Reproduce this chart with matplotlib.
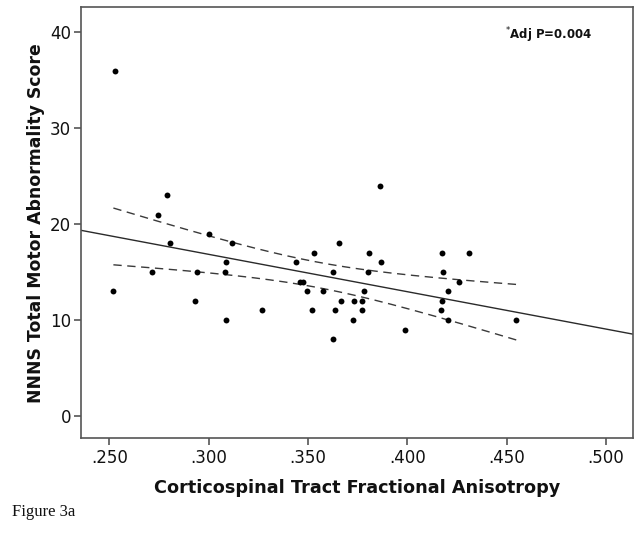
import numpy as np
import matplotlib
matplotlib.use("Agg")
import matplotlib.pyplot as plt

# Data
fa = [0.2527, 0.2520, 0.2713, 0.2745, 0.2789, 0.2807, 0.2932, 0.2942, 0.3002,
      0.3083, 0.3086, 0.3086, 0.3119, 0.3266, 0.3440, 0.3460, 0.3477, 0.3495,
      0.3519, 0.3531, 0.3575, 0.3627, 0.3628, 0.3638, 0.3655, 0.3665, 0.3729,
      0.3732, 0.3771, 0.3774, 0.3781, 0.3804, 0.3808, 0.3865, 0.3868, 0.3989,
      0.4171, 0.4176, 0.4177, 0.4179, 0.4204, 0.4207, 0.4263, 0.4312, 0.4550]
score = [36, 13, 15, 21, 23, 18, 12, 15, 19,
         15, 16, 10, 18, 11, 16, 14, 14, 13,
         11, 17, 13, 8, 15, 11, 18, 12, 10,
         12, 11, 12, 13, 15, 17, 24, 16, 9,
         11, 17, 12, 15, 13, 10, 14, 17, 10]
xticks = [0.25, 0.30, 0.35, 0.40, 0.45, 0.50]
xticklabels = [".250", ".300", ".350", ".400", ".450", ".500"]
yticks = [0, 10, 20, 30, 40]

x = np.array(fa)
y = np.array(score)
n = len(x)
b1, b0 = np.polyfit(x, y, 1)
resid = y - (b0 + b1 * x)
s = np.sqrt(np.sum(resid ** 2) / (n - 2))
t = 2.0154  # t(0.975, 43)
sxx = np.sum((x - x.mean()) ** 2)

fig = plt.figure(figsize=(6.41, 5.36), dpi=100)
ax = fig.add_axes([0.1264, 0.1828, 0.8611, 0.8036])
xlim = (0.2357, 0.5137)
ax.set_xlim(*xlim)
ax.set_ylim(-2.3, 42.6)

xl = np.linspace(xlim[0], xlim[1], 200)
ax.plot(xl, b0 + b1 * xl, color="#2a2a2a", lw=1.0, zorder=2)
xc = np.linspace(x.min(), x.max(), 200)
se = s * np.sqrt(1.0 / n + (xc - x.mean()) ** 2 / sxx)
for sign in (1, -1):
    ax.plot(xc, b0 + b1 * xc + sign * t * se, color="#3a3a3a", lw=1.0,
            dashes=(6, 4), zorder=2)

ax.scatter(x, y, s=18, color="black", zorder=3, linewidths=0)

ax.set_xticks(xticks)
ax.set_xticklabels(xticklabels)
ax.set_yticks(yticks)
for sp in ax.spines.values():
    sp.set_color("#555555")
    sp.set_linewidth(1.2)
ax.tick_params(direction="out", length=5, width=1.2, color="#555555",
               labelsize=12, labelcolor="#111111", pad=3)
ax.tick_params(axis="y", pad=2)

ax.set_xlabel("Corticospinal Tract Fractional Anisotropy", fontsize=12.7,
              fontweight="bold", color="#111111")
ax.set_ylabel("NNNS Total Motor Abnormality Score", fontsize=12.4,
              fontweight="bold", color="#111111")
ax.xaxis.set_label_coords(0.5, -0.095)
ax.yaxis.set_label_coords(-0.065, 0.5)

ax.text(0.768, 0.936, "$^{*}$Adj P=0.004", transform=ax.transAxes,
        fontsize=8.5, fontweight="bold", ha="left", va="center", color="#111111")

fig.text(0.018, 0.03, "Figure 3a", family="Liberation Serif", fontsize=12,
         ha="left", va="bottom", color="#111111")

fig.savefig("out.png", dpi=100)
